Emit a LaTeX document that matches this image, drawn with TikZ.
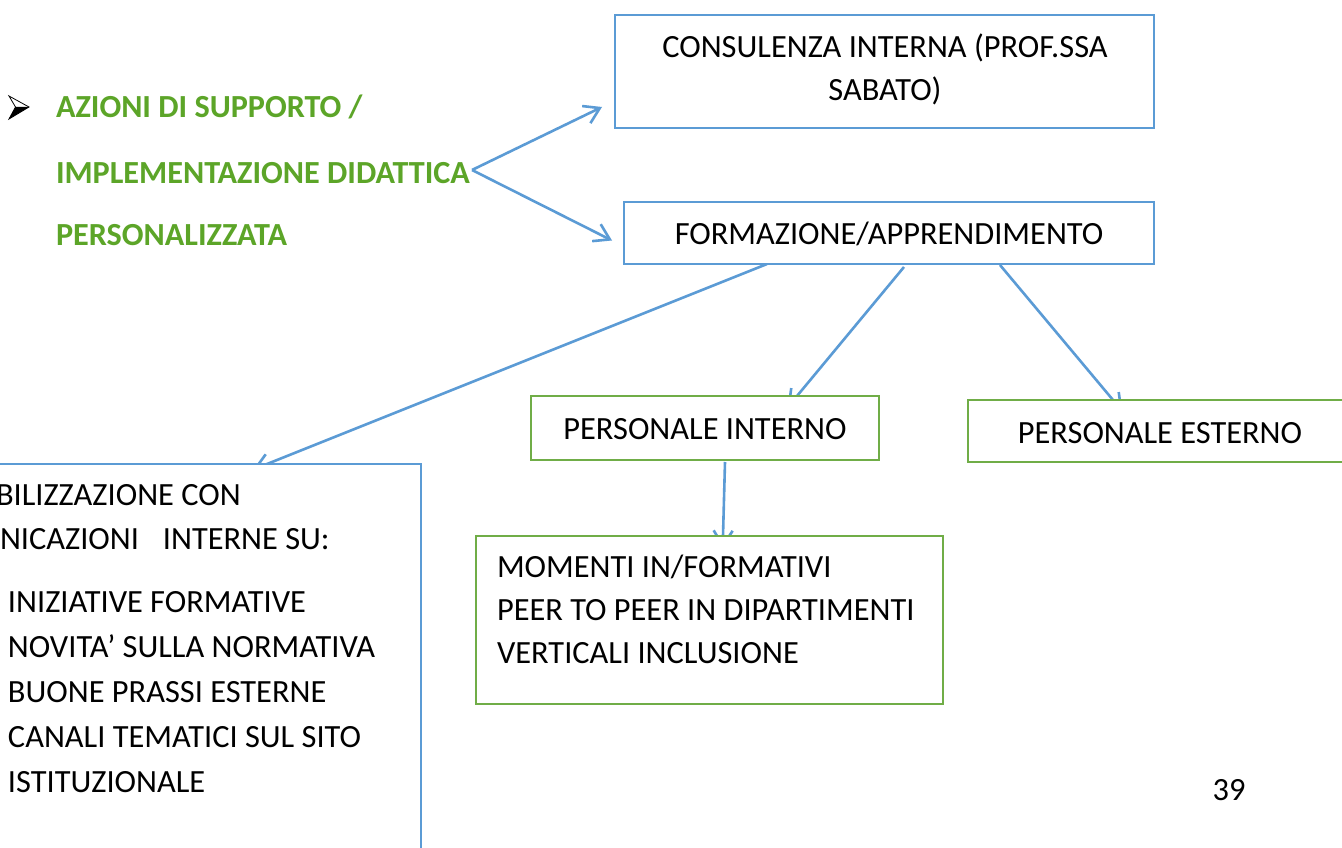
\documentclass[tikz,border=0pt]{standalone}
\usepackage{fontspec}
\setmainfont{Carlito}
\usetikzlibrary{arrows.meta,backgrounds}
\definecolor{bl}{RGB}{91,155,213}
\definecolor{gr}{RGB}{112,173,71}
\definecolor{gtext}{RGB}{92,165,40}
\begin{document}
\begin{tikzpicture}[x=1pt,y=-1pt,
  bluebox/.style={draw=bl,line width=2.8pt,fill=white,rectangle,inner sep=0pt,outer sep=0pt,anchor=north west},
  greenbox/.style={draw=gr,line width=2.8pt,fill=white,rectangle,inner sep=0pt,outer sep=0pt,anchor=north west},
  txt/.style={inner sep=0pt,outer sep=0pt,font=\fontsize{32.4pt}{38pt}\selectfont,anchor=base},
  txtl/.style={txt,anchor=base west},
  txtr/.style={txt,anchor=base east},
  ttl/.style={inner sep=0pt,outer sep=0pt,anchor=base west,font=\fontsize{32.2pt}{38pt}\selectfont\bfseries,text=gtext},
  conn/.style={draw=bl,line width=2.6pt,-{Straight Barb[length=15pt,width=19pt]}},
]
\useasboundingbox (0,0) rectangle (1342,848);
\clip (0,0) rectangle (1342,848);

% bullet
\draw[line width=0.8pt,fill=white] (9,96) -- (29,107) -- (9,119) -- (15.5,107) -- cycle;
\fill[black] (15.5,107) -- (29,107) -- (9,119) -- cycle;

% title
\node[ttl] (t1) at (56,118) {AZIONI DI SUPPORTO /};
\node[ttl] (t2) at (56,184) {IMPLEMENTAZIONE DIDATTICA};
\node[ttl] (t3) at (56,245) {PERSONALIZZATA};
\coordinate (src) at (472,170);

% boxes
\node[bluebox,minimum width=539pt,minimum height=113pt] (cons) at (615,15) {};
\node[bluebox,minimum width=530pt,minimum height=62pt] (form) at (624,202) {};
\node[greenbox,minimum width=348pt,minimum height=64pt] (pi) at (531,396) {};
\node[greenbox,minimum width=385pt,minimum height=62pt] (pe) at (968,400) {};
\node[greenbox,minimum width=467pt,minimum height=168pt] (mom) at (476,536) {};
\node[bluebox,minimum width=441pt,minimum height=416pt] (lbox) at (-20,464) {};

% texts
\node[txt] (c1) at (885,58) {CONSULENZA INTERNA (PROF.SSA};
\node[txt] (c2) at (885,101) {SABATO)};
\node[txt] (f1) at (889,244) {FORMAZIONE/APPRENDIMENTO};
\node[txt] (p1) at (705,439) {PERSONALE INTERNO};
\node[txt] (p2) at (1160,443) {PERSONALE ESTERNO};
\node[txtl] (m1) at (497,577) {MOMENTI IN/FORMATIVI};
\node[txtl] (m2) at (497,620) {PEER TO PEER IN DIPARTIMENTI};
\node[txtl] (m3) at (497,663) {VERTICALI INCLUSIONE};
\node[txtl] (l1) at (-4,505) {BILIZZAZIONE CON};
\node[txtl] (l2) at (0,549) {NICAZIONI\hspace{24pt}INTERNE SU:};
\node[txtl] (l3) at (8,612) {INIZIATIVE FORMATIVE};
\node[txtl] (l4) at (8,657) {NOVITA’ SULLA NORMATIVA};
\node[txtl] (l5) at (8,702) {BUONE PRASSI ESTERNE};
\node[txtl] (l6) at (8,747) {CANALI TEMATICI SUL SITO};
\node[txtl] (l7) at (8,792) {ISTITUZIONALE};
\node[txt] (pg) at (1229,800) {39};

% connectors
\begin{scope}[on background layer]
\fill[white] (0,0) rectangle (1342,848);
\draw[conn] (src) -- ([xshift=-13pt,yshift=21pt]cons.south west);
\draw[conn] (src) -- ([xshift=-12pt,yshift=-7.5pt]form.west);
\draw[conn,shorten >=-15pt] ([xshift=143pt]form.south west) -- ([xshift=-154pt]lbox.north east);
\draw[conn,shorten >=-15pt] ([xshift=280pt,yshift=-3pt]form.south west) -- ([xshift=266pt]pi.north west);
\draw[conn,shorten >=-15pt] ([xshift=376pt,yshift=-1pt]form.south west) -- ([xshift=145pt]pe.north west);
\draw[conn,shorten >=-12pt] ([xshift=194pt,yshift=-2pt]pi.south west) -- ([xshift=247pt]mom.north west);
\end{scope}
\end{tikzpicture}
\end{document}
